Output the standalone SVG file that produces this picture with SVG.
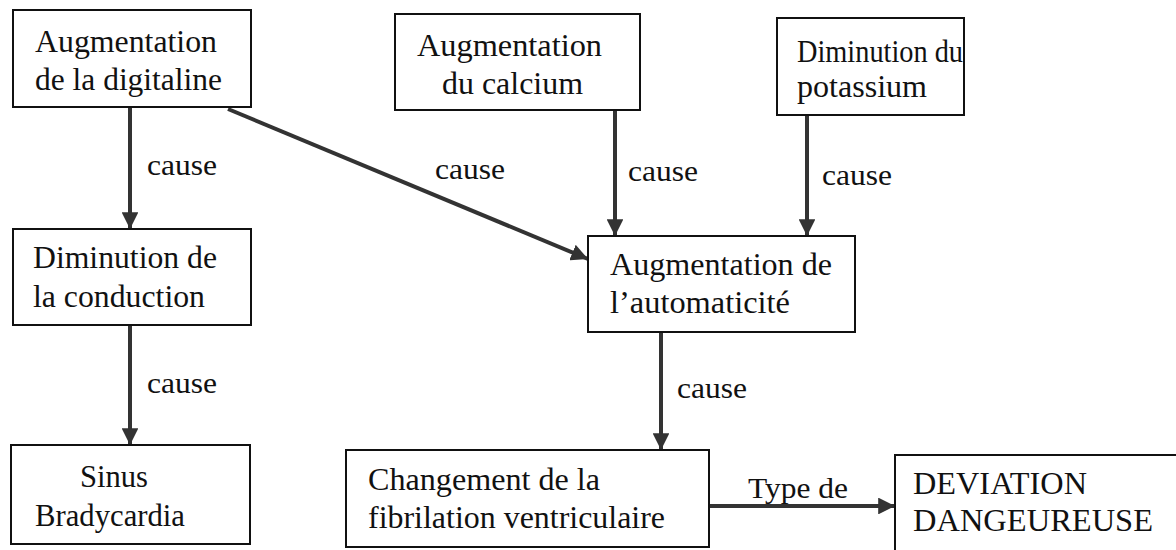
<svg xmlns="http://www.w3.org/2000/svg" width="1176" height="550" viewBox="0 0 1176 550">
  <style>
    .box { fill: #ffffff; stroke: #111111; stroke-width: 2; }
    .lbl { font-size: 32px; fill: #111111; }
    .edge { stroke: #333333; stroke-width: 4; fill: none; marker-end: url(#head); }
    .elbl { font-size: 30px; fill: #111111; }
  </style>
  <defs>
    <marker id="head" viewBox="0 0 10 10" refX="10" refY="5" markerWidth="4.2" markerHeight="4.2" orient="auto" markerUnits="strokeWidth">
      <path d="M0,0 L10,5 L0,10 z" fill="#333333"/>
    </marker>
  </defs>
  <rect width="1176" height="550" fill="#ffffff"/>

  <g font-family="Liberation Serif, DejaVu Serif, serif">
    <!-- connectors and their labels -->
    <g id="connectors">
      <line class="edge" x1="130" y1="107" x2="130" y2="229"/>
      <line class="edge" x1="130" y1="325" x2="130" y2="445"/>
      <line class="edge" x1="228" y1="109" x2="588" y2="259"/>
      <line class="edge" x1="615" y1="110" x2="615" y2="236"/>
      <line class="edge" x1="807" y1="115" x2="807" y2="236"/>
      <line class="edge" x1="661" y1="332" x2="661" y2="450"/>
      <line class="edge" x1="709" y1="506" x2="895" y2="506"/>
      <text class="elbl" x="147" y="175" textLength="70" lengthAdjust="spacingAndGlyphs">cause</text>
      <text class="elbl" x="147" y="393" textLength="70" lengthAdjust="spacingAndGlyphs">cause</text>
      <text class="elbl" x="435" y="179" textLength="70" lengthAdjust="spacingAndGlyphs">cause</text>
      <text class="elbl" x="628" y="181" textLength="70" lengthAdjust="spacingAndGlyphs">cause</text>
      <text class="elbl" x="822" y="185" textLength="70" lengthAdjust="spacingAndGlyphs">cause</text>
      <text class="elbl" x="677" y="398" textLength="70" lengthAdjust="spacingAndGlyphs">cause</text>
      <text class="elbl" x="748" y="498" textLength="100" lengthAdjust="spacingAndGlyphs">Type de</text>
    </g>

    <g id="n-digitaline">
      <rect class="box" x="13" y="10" width="238" height="97"/>
      <text class="lbl" x="35" y="52" textLength="182" lengthAdjust="spacingAndGlyphs">Augmentation</text>
      <text class="lbl" x="35" y="90" textLength="187" lengthAdjust="spacingAndGlyphs">de la digitaline</text>
    </g>
    <g id="n-calcium">
      <rect class="box" x="395" y="14" width="245" height="96"/>
      <text class="lbl" x="417" y="56" textLength="185" lengthAdjust="spacingAndGlyphs">Augmentation</text>
      <text class="lbl" x="442" y="94" textLength="141" lengthAdjust="spacingAndGlyphs">du calcium</text>
    </g>
    <g id="n-potassium">
      <rect class="box" x="777" y="18" width="187" height="97"/>
      <text class="lbl" x="797" y="62" textLength="166" lengthAdjust="spacingAndGlyphs">Diminution du</text>
      <text class="lbl" x="797" y="97" textLength="130" lengthAdjust="spacingAndGlyphs">potassium</text>
    </g>
    <g id="n-conduction">
      <rect class="box" x="13" y="229" width="238" height="96"/>
      <text class="lbl" x="33" y="268" textLength="184" lengthAdjust="spacingAndGlyphs">Diminution de</text>
      <text class="lbl" x="33" y="307" textLength="172" lengthAdjust="spacingAndGlyphs">la conduction</text>
    </g>
    <g id="n-automaticite">
      <rect class="box" x="588" y="236" width="267" height="96"/>
      <text class="lbl" x="610" y="275" textLength="222" lengthAdjust="spacingAndGlyphs">Augmentation de</text>
      <text class="lbl" x="610" y="313" textLength="180" lengthAdjust="spacingAndGlyphs">l’automaticité</text>
    </g>
    <g id="n-bradycardia">
      <rect class="box" x="11" y="445" width="239" height="99"/>
      <text class="lbl" x="80" y="487" textLength="68" lengthAdjust="spacingAndGlyphs">Sinus</text>
      <text class="lbl" x="35" y="526" textLength="150" lengthAdjust="spacingAndGlyphs">Bradycardia</text>
    </g>
    <g id="n-fibrilation">
      <rect class="box" x="346" y="450" width="363" height="97"/>
      <text class="lbl" x="368" y="490" textLength="232" lengthAdjust="spacingAndGlyphs">Changement de la</text>
      <text class="lbl" x="368" y="528" textLength="297" lengthAdjust="spacingAndGlyphs">fibrilation ventriculaire</text>
    </g>
    <g id="n-deviation">
      <rect class="box" x="895" y="455" width="300" height="120"/>
      <text class="lbl" x="913" y="494" textLength="174" lengthAdjust="spacingAndGlyphs">DEVIATION</text>
      <text class="lbl" x="913" y="531" textLength="240" lengthAdjust="spacingAndGlyphs">DANGEUREUSE</text>
    </g>
  </g>
</svg>
